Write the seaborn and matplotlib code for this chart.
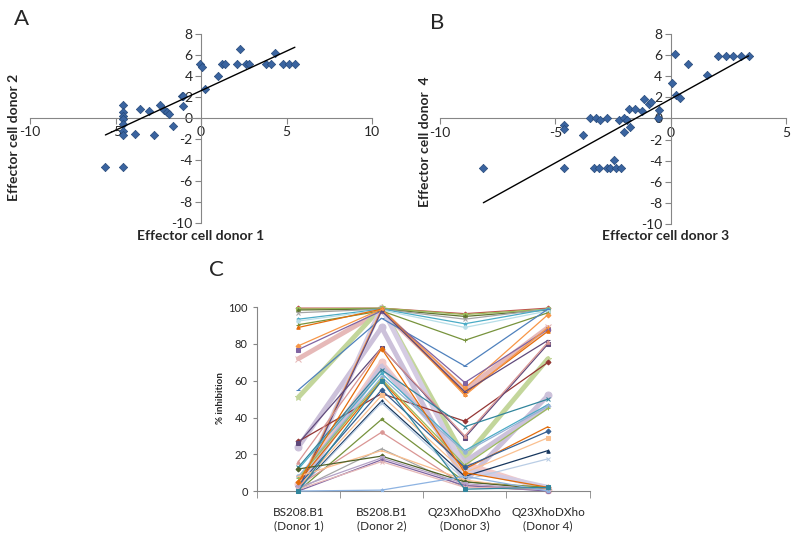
import numpy as np
import pandas as pd
import matplotlib
matplotlib.use('Agg')
import matplotlib.pyplot as plt
import seaborn as sns

# panel A: donor 1 vs donor 2
a_x = [-5.59, -4.58, -4.58, -4.58, -4.58, -4.58, -4.58, -4.58, -4.58,
       -3.88, -3.58, -3.02, -2.77, -2.41, -2.14, -1.99, -1.85, -1.62,
       -1.11, -1.03, -1.03, -0.08, 0.08, 0.23, 0.97,
       1.21, 1.38, 2.12, 2.30, 2.63, 2.78, 3.82, 4.09, 4.30, 4.79, 5.14, 5.49]
a_y = [-4.65, -4.65, 1.24, 0.60, 0.22, -0.10, -0.57, -1.20, -1.60,
       -1.56, 0.83, 0.70, -1.66, 1.24, 0.76, 0.60, 0.35, -0.76,
       2.07, 2.07, 1.18, 5.10, 4.87, 2.77, 3.98,
       5.10, 5.10, 5.10, 6.60, 5.10, 5.10, 5.10, 5.10, 6.21, 5.10, 5.10, 5.10]
a_trend = (0.754, 2.60)  # slope, intercept

# panel B: donor 3 vs donor 4
b_x = [-8.12, -4.61, -4.61, -4.61, -3.78, -3.48, -3.23, -3.07, -2.74, -3.33,
       -3.09, -2.75, -2.61, -2.39, -2.14, -2.45, -2.23, -2.03, -1.88, -1.75,
       -2.03, -1.81, -1.55, -1.26, -1.17, -0.93, -0.84, -0.57, -0.49, 0.07,
       0.17, 0.23, 0.39, 0.77, 1.57, 2.07, 2.39, 2.72, 3.04, 3.38]
b_y = [-4.73, -0.64, -0.96, -4.73, -1.60, 0.06, 0.06, -0.16, 0.00, -4.73,
       -4.73, -4.73, -4.73, -4.73, -4.73, -3.95, -0.16, 0.06, -0.16, -0.80,
       -1.32, 0.87, 0.87, 0.74, 1.86, 1.41, 1.54, 0.00, 0.80, 3.34,
       6.10, 2.19, 1.93, 5.20, 4.12, 5.95, 5.95, 5.95, 5.95, 5.95]
b_trend = (1.21, 1.84)

# panel C: % inhibition per sample, one value per category
categories = ['BS208.B1\n(Donor 1)', 'BS208.B1\n(Donor 2)',
              'Q23XhoDXho\n(Donor 3)', 'Q23XhoDXho\n(Donor 4)']
donor1 = [99.5, 99, 98.5, 97, 93.5, 92.5, 90.5, 55, 79, 77, 89, 72, 51, 24,
          2, 1, 27, 26, 16, 13, 12, 8, 7, 5, 3, 2, 1, 0.5, 0, 3, 1, 8, 12, 2,
          0, 1, 0, 4, 2, 0, 5, 0]
donor2 = [99.5, 99.5, 99, 99, 99, 98.5, 98, 94, 99, 98, 99, 98, 100, 89,
          99, 98, 53, 78, 78, 66, 64, 62, 61, 60, 55, 52, 49, 48, 39, 32, 23,
          22, 19, 18, 17, 16, 0.5, 70, 68, 100, 77.5, 60]
donor3 = [96.5, 96, 95, 93.5, 91, 89, 82, 68, 56, 59, 53, 55, 18, 5,
          52, 54, 38, 29, 30, 35, 22, 21, 14, 12, 13, 10, 8, 6, 5, 3, 2,
          6, 5, 4, 3, 2, 8, 15, 16, 12, 10, 1]
donor4 = [99.5, 99, 98.5, 99, 99, 98, 97, 99, 96, 88, 87, 89, 72, 52,
          89, 82, 70, 80, 81, 50, 47, 46, 45, 35, 32.5, 29, 22, 17.5, 2, 1,
          0.5, 0, 1, 0.5, 0, 1, 0, 0.5, 46, 2, 2, 2]

line_colors = ['#C0504D', '#9BBB59', '#5F7530', '#A5A5A5', '#4BACC6', '#B7DEE8',
               '#77933C', '#4F81BD', '#F79646', '#8064A2', '#E46C0A', '#E6B9B8',
               '#C3D69B', '#CCC1DA', '#F79646', '#604A7B', '#943634', '#5F497A',
               '#D99694', '#31859C', '#4BACC6', '#95B3D7', '#9BBB59', '#E46C0A',
               '#366092', '#FAC090', '#17375E', '#B9CDE5', '#76923C', '#DA9694',
               '#A6A6A6', '#FABF8F', '#4F6228', '#B3A2C7', '#8064A2', '#E6B9B8',
               '#8DB3E2', '#F2C9C8', '#CCC1DA', '#D5CCE3', '#E46C0A', '#31859C']
thick = {11, 12, 13, 37, 38, 39}
marker_cycle = ['D', 's', '^', 'x', '*', 'o', '+', '_']

grey = '#868686'

sns.set_style('white')
plt.rcParams['font.family'] = ['Lato', 'DejaVu Sans']
plt.rcParams['axes.unicode_minus'] = False

fig = plt.figure(figsize=(8, 5.39), dpi=100)


def scatter_panel(ax, x, y, trend, xlim, xticks):
    sns.scatterplot(x=x, y=y, ax=ax, marker='D', s=18, color='#3A64A0',
                    edgecolor='#26497A', linewidth=0.5, zorder=3, clip_on=False)
    xs = np.array([min(x), max(x)])
    sns.lineplot(x=xs, y=trend[0] * xs + trend[1], ax=ax, color='black', lw=1, zorder=4)
    ax.set_xlim(*xlim)
    ax.set_ylim(-10, 8)
    ax.set_xticks(xticks)
    ax.set_yticks(range(-10, 9, 2))
    for s in ['top', 'right']:
        ax.spines[s].set_visible(False)
    ax.spines['left'].set_position(('data', 0))
    ax.spines['bottom'].set_position(('data', 0))
    for s in ['left', 'bottom']:
        ax.spines[s].set_color(grey)
        ax.spines[s].set_linewidth(0.8)
    ax.tick_params(left=True, bottom=True, direction='out', length=4, color=grey,
                   labelsize=10, pad=2)
    ax.set_xlabel('')
    ax.set_ylabel('')


ax_a = fig.add_axes([0.0375, 0.5863, 0.4275, 0.3506])
scatter_panel(ax_a, a_x, a_y, a_trend, (-10, 10), [-10, -5, 0, 5, 10])
ax_b = fig.add_axes([0.55, 0.5844, 0.4325, 0.3525])
scatter_panel(ax_b, b_x, b_y, b_trend, (-10, 5), [-10, -5, 0, 5])

title_kw = dict(fontsize=10, fontweight='bold', ha='center', va='center')
fig.text(0.017, 0.746, 'Effector cell donor 2', rotation=90, **title_kw)
fig.text(0.251, 0.562, 'Effector cell donor 1', **title_kw)
fig.text(0.531, 0.737, 'Effector cell donor  4', rotation=90, **title_kw)
fig.text(0.8325, 0.562, 'Effector cell donor 3', **title_kw)

fig.text(0.027, 0.965, 'A', fontsize=16, ha='center', va='center')
fig.text(0.547, 0.958, 'B', fontsize=16, ha='center', va='center')
fig.text(0.27, 0.499, 'C', fontsize=16, ha='center', va='center')

# panel C
ax_c = fig.add_axes([0.321, 0.089, 0.416, 0.341])
rows = []
for i in range(len(donor1)):
    for j, v in enumerate([donor1[i], donor2[i], donor3[i], donor4[i]]):
        rows.append({'sample': i, 'pos': j, 'value': v})
df = pd.DataFrame(rows)

for i in range(len(donor1)):
    d = df[df['sample'] == i]
    lw = 3.5 if i in thick else 0.9
    ms = 5 if i in thick else 2.5
    sns.lineplot(data=d, x='pos', y='value', ax=ax_c, color=line_colors[i], lw=lw,
                 marker=marker_cycle[i % len(marker_cycle)], markersize=ms,
                 markeredgecolor=line_colors[i], clip_on=False, zorder=2 if i in thick else 3)

ax_c.set_xlim(-0.5, 3.5)
ax_c.set_ylim(0, 100)
ax_c.set_yticks(range(0, 101, 20))
ax_c.set_xticks(range(4))
ax_c.set_xticklabels(categories)
ax_c.set_xticks([-0.5, 0.5, 1.5, 2.5, 3.5], minor=True)
for s in ['top', 'right']:
    ax_c.spines[s].set_visible(False)
for s in ['left', 'bottom']:
    ax_c.spines[s].set_color(grey)
    ax_c.spines[s].set_linewidth(0.8)
ax_c.tick_params(axis='y', left=True, direction='out', length=3, color=grey, labelsize=8)
ax_c.tick_params(axis='x', which='major', bottom=False, labelsize=8.5, pad=8)
ax_c.tick_params(axis='x', which='minor', bottom=True, direction='out', length=5, color=grey)
ax_c.set_xlabel('')
ax_c.set_ylabel('')
fig.text(0.276, 0.262, '% inhibition', rotation=90, fontsize=7, fontweight='bold',
         ha='center', va='center')

fig.savefig('out.png', dpi=100)
